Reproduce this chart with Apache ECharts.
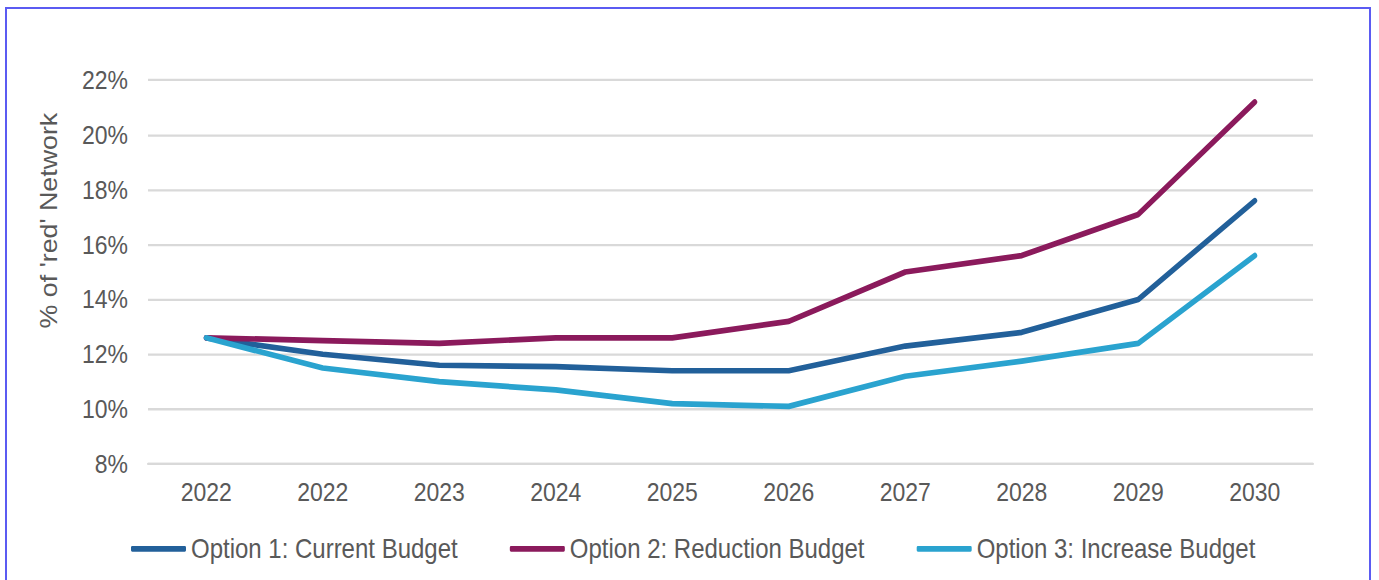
<!DOCTYPE html>
<html>
<head>
<meta charset="utf-8">
<script src="https://cdn.jsdelivr.net/npm/echarts@6/dist/echarts.min.js"></script>
<style>
  html, body { margin: 0; padding: 0; background: #ffffff; overflow: hidden; }
  #frame {
    position: absolute; left: 5px; top: 7px; width: 1366px; height: 600px;
    border: 2px solid #5b5bf2; box-sizing: border-box;
  }
  /* the chart is laid out a little shorter and stretched vertically */
  #chart {
    position: absolute; left: 0; top: 0; width: 1379px; height: 509px;
    transform: scaleY(1.14); transform-origin: 0 0;
  }
</style>
</head>
<body>
<div id="frame"></div>
<div id="chart"></div>
<script>
// Years along the x axis (the first year appears twice in the source table)
const years = ['2022', '2022', '2023', '2024', '2025', '2026', '2027', '2028', '2029', '2030'];

// Share of the network rated 'red', in percent, per budget option
const currentBudget   = [12.6, 12.0, 11.6, 11.55, 11.4, 11.4, 12.3, 12.8, 14.0, 17.6];
const reductionBudget = [12.6, 12.5, 12.4, 12.6, 12.6, 13.2, 15.0, 15.6, 17.1, 21.2];
const increaseBudget  = [12.6, 11.5, 11.0, 10.7, 10.2, 10.1, 11.2, 11.75, 12.4, 15.6];

const seriesNames = ['Option 1: Current Budget', 'Option 2: Reduction Budget', 'Option 3: Increase Budget'];
const seriesColors = ['#22609a', '#8b1a5c', '#2aa3cf'];

const yTicks = { min: 8, max: 22, step: 2 };

const textColor = '#595959';
const font = 'Liberation Sans, Arial, sans-serif';

const chart = echarts.init(document.getElementById('chart'), null, { renderer: 'svg' });

function lineSeries(name, data, color) {
  return {
    name: name,
    type: 'line',
    data: data,
    symbol: 'none',
    smooth: false,
    lineStyle: { color: color, width: 5, cap: 'round', join: 'round' },
    itemStyle: { color: color }
  };
}

chart.setOption({
  backgroundColor: 'transparent',
  animation: false,
  textStyle: { fontFamily: font },
  grid: { left: 148, right: 66, top: 70.2, bottom: 102 },
  xAxis: {
    type: 'category',
    data: years,
    boundaryGap: true,
    axisLine: { show: true, lineStyle: { color: '#d9d9d9', width: 2 } },
    axisTick: { show: false },
    axisLabel: { color: textColor, fontSize: 23, margin: 13, fontFamily: font }
  },
  yAxis: {
    type: 'value',
    min: yTicks.min,
    max: yTicks.max,
    interval: yTicks.step,
    axisLine: { show: false },
    axisTick: { show: false },
    axisLabel: {
      color: textColor, fontSize: 23, margin: 20, fontFamily: font,
      formatter: v => v + '%'
    },
    splitLine: { lineStyle: { color: '#d9d9d9', width: 2 } }
  },
  legend: {
    top: 464.5,
    left: 126,
    icon: 'roundRect',
    itemWidth: 55,
    itemHeight: 5,
    itemGap: 52,
    textStyle: { color: textColor, fontSize: 24, fontFamily: font },
    data: seriesNames
  },
  graphic: [{
    type: 'text',
    x: 49,
    y: 193.5,
    rotation: Math.PI / 2,
    style: {
      text: "% of 'red' Network",
      fill: textColor,
      font: '23.5px ' + font,
      textAlign: 'center',
      textVerticalAlign: 'middle'
    }
  }],
  series: [
    lineSeries(seriesNames[0], currentBudget, seriesColors[0]),
    lineSeries(seriesNames[1], reductionBudget, seriesColors[1]),
    lineSeries(seriesNames[2], increaseBudget, seriesColors[2])
  ]
});
</script>
</body>
</html>
